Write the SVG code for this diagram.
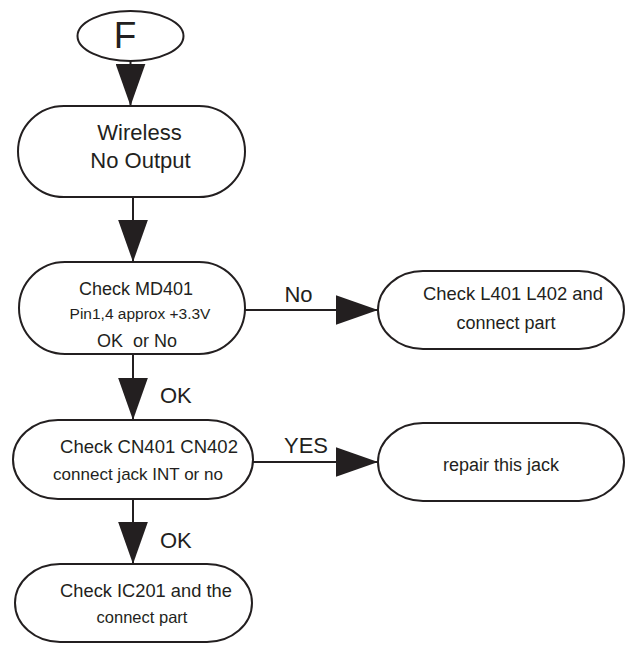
<svg xmlns="http://www.w3.org/2000/svg" width="626" height="645" viewBox="0 0 626 645">
<style>
.n{fill:#ffffff;stroke:#231f20;stroke-width:2}
.t{font-family:"Liberation Sans",Arial,sans-serif;fill:#231f20;text-anchor:middle}
.c{stroke:#231f20;stroke-width:2;fill:none}
.l{font-family:"Liberation Sans",Arial,sans-serif;fill:#231f20;font-size:22px}
</style>
<defs>
<marker id="ah" markerUnits="userSpaceOnUse" markerWidth="42" markerHeight="30" viewBox="0 0 41 29" refX="41" refY="14.5" orient="auto">
<path d="M0,0 L41,14.5 L0,29 Z" fill="#231f20"/>
</marker>
</defs>
<rect width="626" height="645" fill="#ffffff"/>
<g id="connectors">
<line class="c" x1="130.5" y1="61" x2="130.5" y2="106" marker-end="url(#ah)"/>
<line class="c" x1="133" y1="197" x2="133" y2="262" marker-end="url(#ah)"/>
<line class="c" x1="133" y1="354" x2="133" y2="420" marker-end="url(#ah)"/>
<line class="c" x1="133" y1="499" x2="133" y2="564" marker-end="url(#ah)"/>
<line class="c" x1="244" y1="310" x2="378" y2="310" marker-end="url(#ah)"/>
<line class="c" x1="253" y1="462" x2="378" y2="462" marker-end="url(#ah)"/>
<text class="l" x="298.5" y="302" text-anchor="middle">No</text>
<text class="l" x="306" y="453" text-anchor="middle">YES</text>
<text class="l" x="160" y="403">OK</text>
<text class="l" x="160" y="548">OK</text>
</g>
<g id="start">
<ellipse class="n" cx="130.5" cy="36" rx="53" ry="25"/>
<text class="t" x="125" y="48" font-size="37">F</text>
</g>
<g id="wireless">
<rect class="n" x="18" y="106" width="227" height="91" rx="46" ry="45.5"/>
<text class="t" x="139.5" y="140" font-size="22">Wireless</text>
<text class="t" x="140.5" y="168" font-size="22">No Output</text>
</g>
<g id="md401">
<rect class="n" x="19" y="262" width="226" height="92" rx="46" ry="46"/>
<text class="t" x="136" y="295" font-size="18">Check MD401</text>
<text class="t" x="140" y="319" font-size="15.5">Pin1,4 approx +3.3V</text>
<text class="t" x="137" y="347" font-size="18" xml:space="preserve">OK  or No</text>
</g>
<g id="l401">
<rect class="n" x="378" y="271" width="246" height="78" rx="45" ry="39"/>
<text class="t" x="513" y="300" font-size="18.4">Check L401 L402 and</text>
<text class="t" x="506" y="329" font-size="18">connect part</text>
</g>
<g id="cn401">
<rect class="n" x="13" y="420" width="240" height="79" rx="45" ry="39.5"/>
<text class="t" x="149" y="453" font-size="18.5">Check CN401 CN402</text>
<text class="t" x="138" y="480" font-size="17">connect jack INT or no</text>
</g>
<g id="repair">
<rect class="n" x="378" y="423" width="246" height="78" rx="45" ry="39"/>
<text class="t" x="501" y="471" font-size="18">repair this jack</text>
</g>
<g id="ic201">
<rect class="n" x="15" y="564" width="237" height="78" rx="45" ry="39"/>
<text class="t" x="146" y="597" font-size="18.3">Check IC201 and the</text>
<text class="t" x="142" y="623" font-size="16.5">connect part</text>
</g>
</svg>
